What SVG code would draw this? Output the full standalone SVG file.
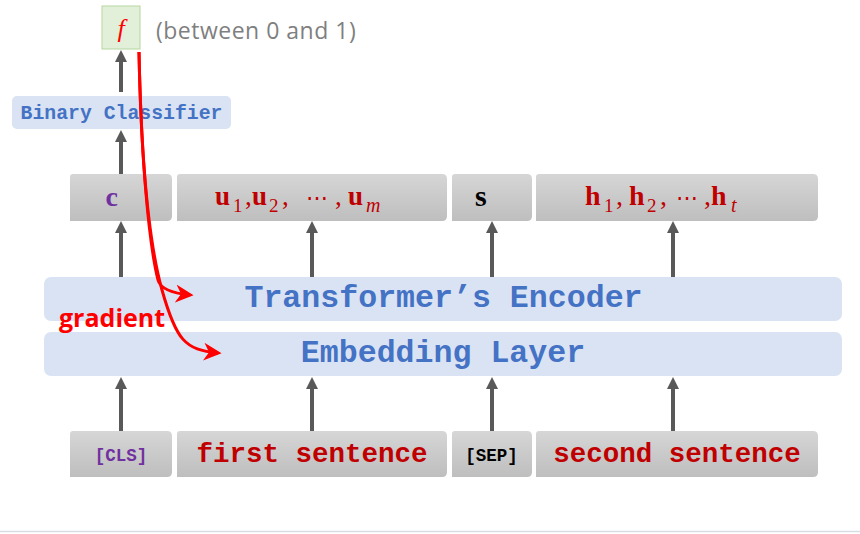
<svg xmlns="http://www.w3.org/2000/svg" width="860" height="534" viewBox="0 0 860 534">
  <style>
    .mono { font-family: "Liberation Mono", "Courier New", monospace; font-weight: bold; }
    .math { font-family: "Liberation Serif", "Times New Roman", serif; }
    .band { fill: #dae3f3; }
    .tok { fill: url(#tokFill); }
    .blue { fill: #4472c4; }
    .dark-red { fill: #c00000; }
    .purple { fill: #7030a0; }
    .flow { stroke: #595959; stroke-width: 4; fill: none; marker-end: url(#grayHead); }
    .grad { stroke: #ff0000; stroke-width: 3; fill: none; marker-end: url(#redHead); }
  </style>
  <defs>
    <linearGradient id="tokFill" x1="0" y1="0" x2="0" y2="1">
      <stop offset="0" stop-color="#d6d6d6"/>
      <stop offset="1" stop-color="#bebebe"/>
    </linearGradient>
    <marker id="grayHead" markerUnits="userSpaceOnUse" viewBox="0 0 12 12" markerWidth="12" markerHeight="12" refX="4" refY="6" orient="auto">
      <path d="M0,0 L12,6 L0,12 z" fill="#595959"/>
    </marker>
    <marker id="redHead" markerUnits="strokeWidth" viewBox="0 0 10 10" markerWidth="6" markerHeight="6" refX="8" refY="5" orient="auto">
      <path d="M0,0 L10,5 L0,10 L3,5 z" fill="#ff0000"/>
    </marker>
  </defs>

  <rect width="860" height="534" fill="#ffffff"/>
  <line x1="0" y1="531.5" x2="860" y2="531.5" stroke="#d9dde3" stroke-width="1.5"/>

  <!-- output probability -->
  <g id="output-f">
    <rect x="102" y="6" width="38" height="43" fill="#e2f0d9" stroke="#b5d7a0" stroke-width="1"/>
    <text x="121" y="37" text-anchor="middle" class="math" font-style="italic" font-size="26" fill="#ff0000">f</text>
  </g>
  <g id="range-note">
    <text x="156" y="39" font-family="'Open Sans', 'Liberation Sans', sans-serif" font-size="23" letter-spacing="0.5" fill="#7f7f7f">(between 0 and 1)</text>
  </g>

  <!-- classifier head -->
  <g id="binary-classifier">
    <rect x="12" y="96" width="219" height="33" rx="5" class="band"/>
    <text x="121.5" y="119" text-anchor="middle" class="mono blue" font-size="19.8">Binary Classifier</text>
  </g>

  <!-- encoder outputs -->
  <g id="out-c">
    <path class="tok" d="M70,177 Q70,174 73,174 H167 Q172,174 172,179 V216 Q172,221 167,221 H70 Z"/>
    <text x="105.5" y="206" class="math purple" font-weight="bold" font-size="28">c</text>
  </g>
  <g id="out-u">
    <path class="tok" d="M177,177 Q177,174 180,174 H442 Q447,174 447,179 V216 Q447,221 442,221 H177 Z"/>
    <text class="math dark-red" font-size="27" y="205"><tspan x="215" font-weight="bold">u</tspan><tspan x="233" y="212" font-size="19">1</tspan><tspan x="245" y="205">,</tspan><tspan x="252" font-weight="bold">u</tspan><tspan x="269" y="212" font-size="19">2</tspan><tspan x="282" y="205">,</tspan><tspan x="306" font-size="22">⋯</tspan><tspan x="335" y="205">,</tspan><tspan x="348" font-weight="bold">u</tspan><tspan x="366" y="212" font-size="20" font-style="italic">m</tspan></text>
  </g>
  <g id="out-s">
    <path class="tok" d="M452,177 Q452,174 455,174 H527 Q532,174 532,179 V216 Q532,221 527,221 H452 Z"/>
    <text x="475" y="205.5" class="math" font-weight="bold" font-size="30" fill="#000000">s</text>
  </g>
  <g id="out-h">
    <path class="tok" d="M536,177 Q536,174 539,174 H813 Q818,174 818,179 V216 Q818,221 813,221 H536 Z"/>
    <text class="math dark-red" font-size="28" y="205"><tspan x="585" font-weight="bold">h</tspan><tspan x="604" y="212" font-size="19">1</tspan><tspan x="616" y="205">,</tspan><tspan x="629" font-weight="bold">h</tspan><tspan x="647" y="212" font-size="19">2</tspan><tspan x="660" y="205">,</tspan><tspan x="676" font-size="22">⋯</tspan><tspan x="704" y="205">,</tspan><tspan x="711" font-weight="bold">h</tspan><tspan x="731" y="212" font-size="20" font-style="italic">t</tspan></text>
  </g>

  <!-- BERT body -->
  <g id="transformer-encoder">
    <rect x="44" y="277" width="798" height="44" rx="7" class="band"/>
    <text x="443.5" y="307" text-anchor="middle" class="mono blue" font-size="31.6">Transformer’s Encoder</text>
  </g>
  <g id="embedding-layer">
    <rect x="44" y="332" width="798" height="44" rx="7" class="band"/>
    <text x="443" y="362" text-anchor="middle" class="mono blue" font-size="31.6">Embedding Layer</text>
  </g>

  <!-- input tokens -->
  <g id="in-cls">
    <path class="tok" d="M70,434 Q70,431 73,431 H167 Q172,431 172,436 V472 Q172,477 167,477 H70 Z"/>
    <text x="121" y="460.5" text-anchor="middle" class="mono purple" font-size="17.5">[CLS]</text>
  </g>
  <g id="in-first">
    <path class="tok" d="M177,434 Q177,431 180,431 H442 Q447,431 447,436 V472 Q447,477 442,477 H177 Z"/>
    <text x="312" y="462" text-anchor="middle" class="mono dark-red" font-size="27.5">first sentence</text>
  </g>
  <g id="in-sep">
    <path class="tok" d="M452,434 Q452,431 455,431 H527 Q532,431 532,436 V472 Q532,477 527,477 H452 Z"/>
    <text x="491.5" y="460.5" text-anchor="middle" class="mono" font-size="17.5" fill="#000000">[SEP]</text>
  </g>
  <g id="in-second">
    <path class="tok" d="M536,434 Q536,431 539,431 H813 Q818,431 818,436 V472 Q818,477 813,477 H536 Z"/>
    <text x="677" y="462" text-anchor="middle" class="mono dark-red" font-size="27.5">second sentence</text>
  </g>

  <!-- backprop label -->
  <g id="gradient-label">
    <text x="59" y="327" font-family="'Open Sans', 'Liberation Sans', sans-serif" font-weight="bold" font-size="25" fill="#ff0000">gradient</text>
  </g>

  <g id="connectors">
    <!-- forward flow -->
    <line class="flow" x1="121" y1="92" x2="121" y2="58"/>
    <line class="flow" x1="121" y1="174" x2="121" y2="138"/>
    <line class="flow" x1="121" y1="277" x2="121" y2="229"/>
    <line class="flow" x1="312" y1="277" x2="312" y2="229"/>
    <line class="flow" x1="492" y1="277" x2="492" y2="229"/>
    <line class="flow" x1="673" y1="277" x2="673" y2="229"/>
    <line class="flow" x1="121" y1="431" x2="121" y2="385"/>
    <line class="flow" x1="312" y1="431" x2="312" y2="385"/>
    <line class="flow" x1="492" y1="431" x2="492" y2="385"/>
    <line class="flow" x1="673" y1="431" x2="673" y2="385"/>
    <!-- backward gradient -->
    <path class="grad" d="M139,52 C141,150 148,240 158,280 Q161,292 190,295"/>
    <path class="grad" d="M139,52 C141,150 148,240 162,290 S185,350 218,353"/>
  </g>
</svg>
